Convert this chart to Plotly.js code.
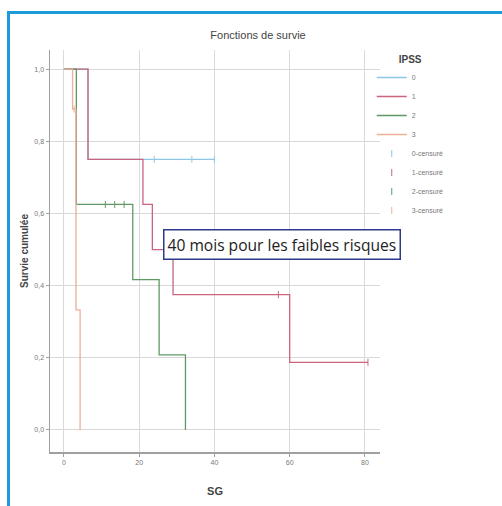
<!DOCTYPE html>
<html>
<head>
<meta charset="utf-8">
<script src="https://cdn.plot.ly/plotly-3.0.1.min.js"></script>
<style>
  html, body { margin: 0; padding: 0; background: #fff; }
  #wrap { position: relative; width: 502px; height: 506px; overflow: hidden; }
  #chart { position: absolute; left: 0; top: 0; width: 502px; height: 506px; }
  #frame { position: absolute; left: 7px; top: 11px; right: -10px; bottom: -10px;
           border-left: 3px solid #1d9bd9; border-top: 3px solid #1d9bd9; pointer-events: none; }
</style>
</head>
<body>
<div id="wrap">
  <div id="chart"></div>
  <div id="frame"></div>
</div>
<script>
// Kaplan-Meier survival by IPSS group (time in months)
const groupNames = ["0", "1", "2", "3"];
const censorNames = ["0-censuré", "1-censuré", "2-censuré", "3-censuré"];
const groupColors = ["#8cc8e4", "#c9657d", "#5f9964", "#efae98"];

const time0 = [0, 6.4, 40];
const surv0 = [1, 0.75, 0.75];
const time1 = [0, 6.4, 21, 23.5, 29, 60, 80.8];
const surv1 = [1, 0.75, 0.625, 0.5, 0.375, 0.1875, 0.1875];
const time2 = [0, 3.3, 18.3, 25.3, 32.3];
const surv2 = [1, 0.625, 0.4167, 0.2083, 0];
const time3 = [0, 2.3, 3.2, 4.3];
const surv3 = [1, 0.889, 0.333, 0];

const censTime0 = [24, 34, 40];
const censSurv0 = [0.75, 0.75, 0.75];
const censTime1 = [57, 80.8];
const censSurv1 = [0.375, 0.1875];
const censTime2 = [11, 13.5, 16];
const censSurv2 = [0.625, 0.625, 0.625];
const censTime3 = [2.7];
const censSurv3 = [0.889];

const xTicks = [0, 20, 40, 60, 80];
const yTicks = [0, 0.2, 0.4, 0.6, 0.8, 1.0];
const noteText = "40 mois pour les faibles risques";
const noteAt = { t: 58, s: 0.514 };

const curves = [[time0, surv0], [time1, surv1], [time2, surv2], [time3, surv3]];
const censors = [[censTime0, censSurv0], [censTime1, censSurv1], [censTime2, censSurv2], [censTime3, censSurv3]];

const traces = [];
curves.forEach(([t, s], i) => {
  traces.push({
    type: "scatter", mode: "lines", x: t, y: s, name: groupNames[i],
    line: { shape: "hv", color: groupColors[i], width: 1.3 }
  });
});
censors.forEach(([t, s], i) => {
  traces.push({
    type: "scatter", mode: "markers", x: t, y: s, name: censorNames[i],
    marker: { symbol: "line-ns-open", size: 5, color: groupColors[i], line: { width: 1, color: groupColors[i] } }
  });
});

const narrow = "Liberation Sans Narrow, Arial Narrow, sans-serif";
const tickFont = { family: narrow, size: 7, color: "#777" };

const layout = {
  width: 502, height: 506,
  paper_bgcolor: "#fff", plot_bgcolor: "#fff",
  separators: ", ",
  margin: { l: 50, r: 122, t: 50, b: 54 },
  title: {
    text: "Fonctions de survie",
    font: { family: narrow, size: 11, color: "#444" },
    x: 0.514, xanchor: "center", y: 0.931, yanchor: "middle"
  },
  xaxis: {
    range: [-3.7, 84], tickvals: xTicks, ticktext: xTicks.map(String),
    showgrid: true, gridcolor: "#dcd9de", gridwidth: 1, zeroline: false,
    showline: true, linecolor: "#a0a0a0", linewidth: 1.5,
    ticks: "outside", ticklen: 3, tickcolor: "#a0a0a0", tickfont: tickFont,
    title: { text: "<b>SG</b>", font: { family: narrow, size: 11, color: "#444" }, standoff: 22 }
  },
  yaxis: {
    range: [-0.061, 1.053], tickvals: yTicks, tickformat: ".1f",
    showgrid: true, gridcolor: "#d9d9d9", gridwidth: 1, zeroline: false,
    showline: true, linecolor: "#a0a0a0", linewidth: 1.5,
    ticks: "outside", ticklen: 3, tickcolor: "#a0a0a0", tickfont: tickFont,
    title: { text: "<b>Survie cumulée</b>", font: { family: narrow, size: 10, color: "#444" }, standoff: 4 }
  },
  legend: {
    title: { text: "<b>IPSS</b>", side: "top center", font: { family: narrow, size: 10, color: "#444" } },
    x: 0.975, xanchor: "left", y: 1.0, yanchor: "top",
    font: { family: narrow, size: 7, color: "#777" },
    itemwidth: 30, bgcolor: "rgba(0,0,0,0)"
  },
  annotations: [{
    x: noteAt.t, y: noteAt.s, xref: "x", yref: "y", text: noteText, showarrow: false,
    font: { family: "Open Sans, sans-serif", size: 15.6, color: "#222" },
    bgcolor: "#fff", bordercolor: "#2b3a8c", borderwidth: 1.5, borderpad: 3
  }],
  showlegend: true
};

Plotly.newPlot("chart", traces, layout, { displayModeBar: false, staticPlot: true });
</script>
</body>
</html>
